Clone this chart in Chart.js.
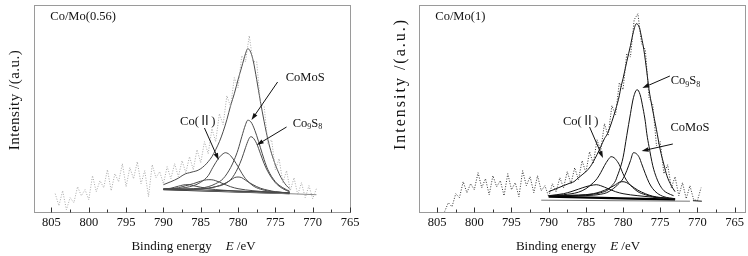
<!DOCTYPE html>
<html>
<head>
<meta charset="utf-8">
<script src="https://cdn.jsdelivr.net/npm/chart.js@4"></script>
<style>
  body { margin: 0; background: #fff; }
  .panel { position: absolute; top: 0; width: 374px; height: 256px; }
</style>
</head>
<body>
<div class="panel" style="left:0"><canvas id="leftChart" width="374" height="256"></canvas></div>
<div class="panel" style="left:374px"><canvas id="rightChart" width="374" height="256"></canvas></div>
<script>
// tick marks on the energy axis (major every 5 eV, minor in between)
const tickValues = [805, 802.5, 800, 797.5, 795, 792.5, 790, 787.5, 785, 782.5, 780, 777.5, 775, 772.5, 770, 767.5, 765];
const tickLabels = [805, 800, 795, 790, 785, 780, 775, 770, 765];

// ---- Co/Mo(0.56) ----
const leftRawE = [804.5,804,803.5,803,802.5,802,801.5,801,800.5,800,799.5,799,798.5,798,797.5,797,796.5,796,795.5,795,794.5,794,793.5,793,792.5,792,791.5,791,790.5,790,789.5,789,788.5,788,787.5,787,786.5,786,785.5,785,784.5,784,783.5,783,782.5,782,781.5,781,780.5,780,779.5,779,778.5,778,777.5,777,776.5,776,775.5,775,774.5,774,773.5,773,772.5,772,771.5,771,770.5,770,769.5];
const leftRawI = [18,6,21,2,14,9,25,16,22,12,36,20,31,24,42,21,38,30,48,25,44,33,50,28,41,15,47,34,40,28,45,33,48,35,51,39,55,42,62,49,70,58,83,70,98,87,116,105,134,124,156,150,176,150,150,108,105,68,72,42,53,29,41,21,34,17,29,14,26,13,23];
const leftEnvE = [790,789,788,787.5,787,786.5,786,785.5,785,784.5,784,783.5,783,782.5,782,781.5,781,780.5,780,779.5,779,778.7,778.4,778,777.5,777,776.5,776,775.5,775,774.5,774,773.5,773.1];
const leftEnvI = [27,30,33.5,36,38,39,40,41,43,46,50,55,62,70,80,92,106,118,132,145,158,163,161,152,132,110,90,72,58,47,38,31,26,23];
const leftCo2E = [790,788,786,785,784,783.4,783,782.5,782,781.7,781.3,781,780.5,780,779.5,779,778,777,776,775,773.1];
const leftCo2I = [22.4,23.2,26,29.5,36,44,49,54.5,58,59,58,56,51,45,38.5,33,26,22.5,20.8,19.8,18.6];
const leftCoMoSE = [790,786,784,783,782,781,780.5,780,779.5,779,778.7,778.3,778,777.5,777,776.5,776,775,774,773.1];
const leftCoMoSI = [22.4,23,25,28,33,44,52,62,75,87,91.5,90,86,76,64,52,42,30,24,20.5];
const leftCo9S8E = [790,786,784,783,782,781,780.5,780,779.5,779,778.6,778.3,778,777.5,777,776.5,776,775,774,773.1];
const leftCo9S8I = [22.4,22.5,23.5,25,27,32,37,44,53,64,72,75,74,68,58,48,40,29,23,20];
const leftP780E = [790,786,784,783,782,781,780.5,780,779.5,779,778,777,776,775,773.1];
const leftP780I = [22.4,22.5,23.5,25,27.5,31.5,34,34.7,34,31.5,27,23.5,21.5,20,18.8];
const leftP784E = [790,788,787,786,785,784,783.6,783,782,781,780,778,776,773.1];
const leftP784I = [22.4,24,26,28,30.5,32,32,31,28,25,23,21,19.8,18.8];
const leftP787E = [790,789,788,787,786.5,786,785,784,782,780,776,773.1];
const leftP787I = [22.4,23.5,25.5,27,27,26,24.5,23,21.5,20.5,19.5,18.8];
const leftBaseE = [790,773.1];
const leftBaseI = [22.4,18.4];
const leftTailE = [790,769.5];
const leftTailI = [22.6,17];

// ---- Co/Mo(1) ----
const rightRawE = [804,803.5,803,802.5,802,801.5,801,800.5,800,799.5,799,798.5,798,797.5,797,796.5,796,795.5,795,794.5,794,793.5,793,792.5,792,791.5,791,790.5,790,789.5,789,788.5,788,787.5,787,786.5,786,785.5,785,784.5,784,783.5,783,782.5,782,781.5,781,780.5,780,779.5,779,778.5,778,777.5,777,776.5,776,775.5,775,774.5,774,773.5,773,772.5,772,771.5,771,770.5,770,769.5];
const rightRawI = [0,9,5,18,14,30,19,28,22,39,24,33,17,36,25,31,16,38,22,29,15,41,26,35,19,36,21,26,15,28,20,34,24,40,28,44,32,51,39,60,48,72,61,88,76,106,97,129,122,158,155,192,198,168,162,114,107,66,70,38,47,24,35,16,29,13,26,12,11,24];
const rightEnvE = [790,789,788,787,786.6,786,785,784.4,784,783.5,783,782.5,782.1,781.5,781,780.5,780.3,780,779.5,779,778.6,778.2,777.8,777.5,777.2,776.8,776.5,776.1,775.5,775,774.5,774.1,773.5,773];
const rightEnvI = [20,23,26,29,30,34,40,45,50,57,65,73,78,90,102,116,124,133,150,166,180,188,184,174,162,140,122,105,82,62,47,36,26,20];
const rightCo2E = [790,788,786,785,784,783.5,783,782.5,782,781.6,781.2,781,780.5,780,779.5,779,778,777,776,775,773];
const rightCo2I = [16,17,19.5,23,29,33,39,46,52,55,54,52.5,47,38,31,26.5,20,17,15,14,12.5];
const rightCoMoSE = [790,786,784,783,782.2,781.5,781,780.5,780,779.5,779,778.6,778.2,777.8,777.5,777,776.5,776,775.4,774.5,773];
const rightCoMoSI = [16,16,16.5,17.5,19,22,25,28.5,33,41,51,59,58,54,48,38,29,23,18.5,15,13];
const rightCo9S8E = [790,786,784,783,782,781.5,781,780.8,780.5,780,779.5,779,778.6,778.1,777.7,777.3,777,776.8,776.5,776,775.5,775,774.5,774,773.2];
const rightCo9S8I = [16,16.5,17.5,19,22,26,31,35,41,54,76,98,114,122,117,103,90,78,65,46,34,26,21,18.5,16];
const rightP780E = [790,786,784,783,782,781,780.5,780,779.5,779,778,777,776,774,773];
const rightP780I = [16,16.5,18,20,23,27,29.5,30,29,26.5,21.5,18,15.5,13.5,13];
const rightP784E = [790,788,787,786,785,784,783.6,783,782,781,780,778,776,773];
const rightP784I = [16,18,20,22.5,25,26.7,27,26,23,20,18,16,14.5,12.5];
const rightBaseE = [790,773];
const rightBaseI = [15,12];
const rightTailE = [791,771];
const rightTailI = [11.5,10.5];
const rightEndE = [770.6,769.4];
const rightEndI = [11,10.5];

const serif = '"Liberation Serif", "Times New Roman", "Noto Sans CJK SC", serif';

function pts(xs, ys) {
    return xs.map((x, i) => ({ x: x, y: ys[i] }));
}

function curve(xs, ys, color, width) {
    return {
        data: pts(xs, ys),
        borderColor: color,
        borderWidth: width || 1,
        pointRadius: 0,
        cubicInterpolationMode: 'monotone',
        fill: false
    };
}

function rawLine(xs, ys, color) {
    return {
        data: pts(xs, ys),
        borderColor: color,
        borderWidth: 1,
        borderDash: [1, 1.6],
        pointRadius: 0,
        tension: 0,
        fill: false
    };
}

function drawArrow(ctx, x1, y1, x2, y2) {
    const ang = Math.atan2(y2 - y1, x2 - x1);
    const len = 7, half = 2.3;
    ctx.beginPath();
    ctx.moveTo(x1, y1);
    ctx.lineTo(x2 - 4 * Math.cos(ang), y2 - 4 * Math.sin(ang));
    ctx.stroke();
    ctx.beginPath();
    ctx.moveTo(x2, y2);
    ctx.lineTo(x2 - len * Math.cos(ang) + half * Math.sin(ang), y2 - len * Math.sin(ang) - half * Math.cos(ang));
    ctx.lineTo(x2 - len * Math.cos(ang) - half * Math.sin(ang), y2 - len * Math.sin(ang) + half * Math.cos(ang));
    ctx.closePath();
    ctx.fill();
}

// label given as [text, isSubscript] pieces, centred on (cx, cy)
function drawLabel(ctx, pieces, cx, cy) {
    const big = '12.5px ' + serif, small = '8px ' + serif;
    let total = 0;
    pieces.forEach(p => { ctx.font = p[1] ? small : big; total += ctx.measureText(p[0]).width; });
    let x = cx - total / 2;
    ctx.textAlign = 'left';
    ctx.textBaseline = 'alphabetic';
    pieces.forEach(p => {
        ctx.font = p[1] ? small : big;
        ctx.fillText(p[0], x, cy + 4 + (p[1] ? 2.5 : 0));
        x += ctx.measureText(p[0]).width;
    });
}

const panelDecor = {
    id: 'panelDecor',
    afterDraw(chart, args, opts) {
        const { ctx, chartArea: a, scales: { x, y } } = chart;
        ctx.save();
        // frame
        ctx.strokeStyle = '#9a9a9a';
        ctx.lineWidth = 1;
        ctx.strokeRect(Math.round(a.left) + 0.5, Math.round(a.top) + 0.5, Math.round(a.right - a.left), Math.round(a.bottom - a.top));
        // inward ticks
        ctx.strokeStyle = '#333';
        const bottom = Math.round(a.bottom) + 0.5;
        tickValues.forEach(v => {
            if (v < x.min || v > x.max) return;
            const px = Math.round(x.getPixelForValue(v)) + 0.5;
            const len = v % 5 === 0 ? 5 : 3;
            ctx.beginPath();
            ctx.moveTo(px, bottom);
            ctx.lineTo(px, bottom - len);
            ctx.stroke();
        });

        // sample name
        ctx.fillStyle = '#111';
        ctx.font = '12.5px ' + serif;
        ctx.textAlign = 'left';
        ctx.textBaseline = 'alphabetic';
        ctx.fillText(opts.name, a.left + opts.nameDx, a.top + 15);

        // peak labels and arrows
        ctx.strokeStyle = '#111';
        ctx.fillStyle = '#111';
        ctx.lineWidth = 1;
        opts.notes.forEach(n => {
            drawLabel(ctx, n.text, x.getPixelForValue(n.at[0]), y.getPixelForValue(n.at[1]));
            drawArrow(ctx, x.getPixelForValue(n.from[0]), y.getPixelForValue(n.from[1]),
                x.getPixelForValue(n.to[0]), y.getPixelForValue(n.to[1]));
        });

        // x title: Binding energy  E /eV
        const parts = [['Binding energy', '13px ' + serif, 0], ['E', 'italic 13px ' + serif, 14], [' /eV', '13px ' + serif, 0]];
        let total = 0;
        parts.forEach(p => { ctx.font = p[1]; total += ctx.measureText(p[0]).width + p[2]; });
        let tx = opts.titleX - total / 2;
        parts.forEach(p => {
            ctx.font = p[1];
            tx += p[2];
            ctx.fillText(p[0], tx, 250);
            tx += ctx.measureText(p[0]).width;
        });

        // y title
        ctx.translate(opts.yTitle[0], opts.yTitle[1]);
        ctx.rotate(-Math.PI / 2);
        ctx.font = opts.yTitle[2] + 'px ' + serif;
        ctx.letterSpacing = opts.yTitle[3] + 'px';
        ctx.textAlign = 'center';
        ctx.textBaseline = 'middle';
        ctx.fillText('Intensity /(a.u.)', 0, 0);
        ctx.restore();
    }
};

function makeChart(id, datasets, xMin, xMax, pad, decor) {
    return new Chart(document.getElementById(id), {
        type: 'line',
        data: { datasets: datasets },
        options: {
            responsive: false,
            animation: false,
            layout: { padding: pad },
            plugins: {
                legend: { display: false },
                tooltip: { enabled: false },
                panelDecor: decor
            },
            scales: {
                x: {
                    type: 'linear',
                    reverse: true,
                    min: xMin,
                    max: xMax,
                    grid: { display: false, drawTicks: false },
                    border: { display: false },
                    afterBuildTicks: axis => { axis.ticks = tickLabels.map(v => ({ value: v })); },
                    ticks: {
                        padding: 4,
                        maxRotation: 0,
                        autoSkip: false,
                        color: '#111',
                        font: { family: serif, size: 12.5 }
                    }
                },
                y: { display: false, min: 0, max: 206.7 }
            }
        },
        plugins: [panelDecor]
    });
}

const lineGrey = '#4a4a4a';
makeChart('leftChart', [
    rawLine(leftRawE, leftRawI, '#a8a8a8'),
    curve(leftEnvE, leftEnvI, lineGrey),
    curve(leftCo2E, leftCo2I, lineGrey),
    curve(leftCoMoSE, leftCoMoSI, lineGrey),
    curve(leftCo9S8E, leftCo9S8I, lineGrey),
    curve(leftP780E, leftP780I, lineGrey),
    curve(leftP784E, leftP784I, lineGrey),
    curve(leftP787E, leftP787I, lineGrey),
    curve(leftTailE, leftTailI, '#888'),
    curve(leftBaseE, leftBaseI, '#111', 2)
], 765, 807.3, { left: 34.3, right: 24, top: 5, bottom: 21.3 }, {
    name: 'Co/Mo(0.56)', nameDx: 16,
    titleX: 193.5,
    yTitle: [15, 100, 15, 0.5],
    notes: [
        { text: [['CoMoS', false]], at: [771.0, 134.7], from: [774.7, 129.7], to: [778.2, 91.7] },
        { text: [['Co', false], ['9', true], ['S', false], ['8', true]], at: [770.7, 89], from: [773.5, 84.7], to: [777.5, 66.7] },
        { text: [['Co(Ⅱ)', false]], at: [785.4, 90.7], from: [784.5, 83.7], to: [782.6, 51.7] }
    ]
});

makeChart('rightChart', [
    rawLine(rightRawE, rightRawI, '#333'),
    curve(rightEnvE, rightEnvI, '#111'),
    curve(rightCo2E, rightCo2I, '#111'),
    curve(rightCoMoSE, rightCoMoSI, '#111'),
    curve(rightCo9S8E, rightCo9S8I, '#111'),
    curve(rightP780E, rightP780I, '#111'),
    curve(rightP784E, rightP784I, '#111'),
    curve(rightTailE, rightTailI, '#777'),
    curve(rightEndE, rightEndI, '#111'),
    curve(rightBaseE, rightBaseI, '#000', 2.2)
], 763.6, 807.4, { left: 45.3, right: 2.3, top: 5, bottom: 21.3 }, {
    name: 'Co/Mo(1)', nameDx: 16,
    titleX: 204,
    yTitle: [26.5, 84, 16, 2],
    notes: [
        { text: [['Co', false], ['9', true], ['S', false], ['8', true]], at: [771.6, 131.7], from: [773.7, 135.7], to: [777.4, 123.7] },
        { text: [['CoMoS', false]], at: [771.0, 84.7], from: [773.3, 67.7], to: [777.5, 60.7] },
        { text: [['Co(Ⅱ)', false]], at: [785.7, 90.7], from: [784.5, 84.7], to: [782.7, 53.7] }
    ]
});
</script>
</body>
</html>
